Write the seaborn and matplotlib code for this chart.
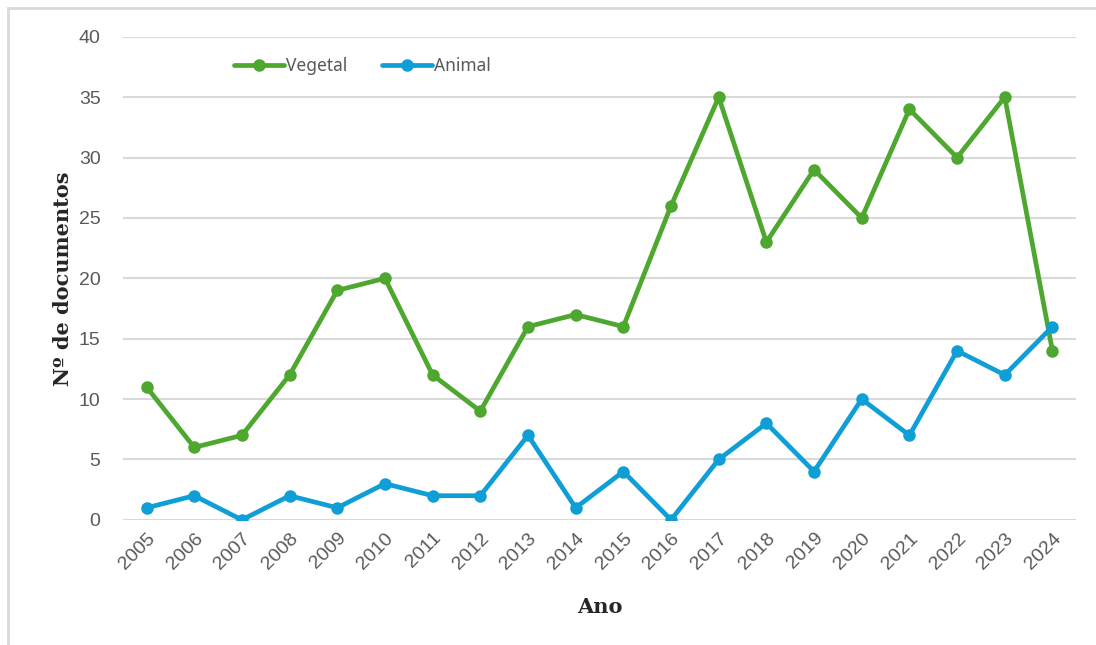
import matplotlib.pyplot as plt
import matplotlib.patches as patches
import pandas as pd
import seaborn as sns

years = list(range(2005, 2025))
vegetal = [11, 6, 7, 12, 19, 20, 12, 9, 16, 17, 16, 26, 35, 23, 29, 25, 34, 30, 35, 14]
animal = [1, 2, 0, 2, 1, 3, 2, 2, 7, 1, 4, 0, 5, 8, 4, 10, 7, 14, 12, 16]

series = [
    {'name': 'Vegetal', 'values': vegetal, 'color': '#4EA72E'},
    {'name': 'Animal', 'values': animal, 'color': '#0F9ED5'},
]


def main():
    sns.set_style('white')
    fig = plt.figure(figsize=(10.96, 6.45), dpi=100)
    ax = fig.add_axes([0.112, 0.194, 0.870, 0.749])

    # light frame around the chart area
    frame = patches.Rectangle((8 / 1096, -0.1), 1.2, 1.1 - 8 / 645, transform=fig.transFigure,
                              fill=False, edgecolor='#D9D9D9', linewidth=2, clip_on=False)
    fig.patches.append(frame)

    for s in series:
        df = pd.DataFrame({'year': years, 'value': s['values']})
        sns.lineplot(data=df, x='year', y='value', ax=ax, color=s['color'], label=s['name'],
                     marker='o', markersize=9, markeredgewidth=0, linewidth=3.4, zorder=3)

    ax.set_xlim(2004.5, 2024.5)
    ax.set_ylim(0, 40)
    ax.set_yticks(range(0, 41, 5))
    ax.set_xticks(years)
    ax.set_xticklabels([str(y) for y in years], rotation=45, ha='right', rotation_mode='anchor')
    ax.tick_params(axis='both', length=0, labelsize=14, labelcolor='#595959')
    ax.tick_params(axis='y', pad=16)
    ax.tick_params(axis='x', pad=7)
    for lab in ax.get_xticklabels() + ax.get_yticklabels():
        lab.set_fontfamily('Liberation Sans')

    ax.grid(axis='y', color='#D9D9D9', linewidth=1.5)
    ax.set_axisbelow(True)
    sns.despine(ax=ax, left=True, bottom=True)

    ax.set_xlabel('Ano', fontfamily='DejaVu Serif', fontweight='bold', fontsize=15, labelpad=18)
    ax.set_ylabel('Nº de documentos', fontfamily='DejaVu Serif', fontweight='bold', fontsize=15, labelpad=4)

    leg = ax.legend(loc='upper left', bbox_to_anchor=(0.1, 0.99), ncol=2, frameon=False,
                    handlelength=2.9, handletextpad=0.1, columnspacing=2.0,
                    prop={'family': 'Noto Sans', 'size': 12.5})
    for t in leg.get_texts():
        t.set_color('#595959')

    fig.savefig('out.png', dpi=100)


if __name__ == '__main__':
    main()
